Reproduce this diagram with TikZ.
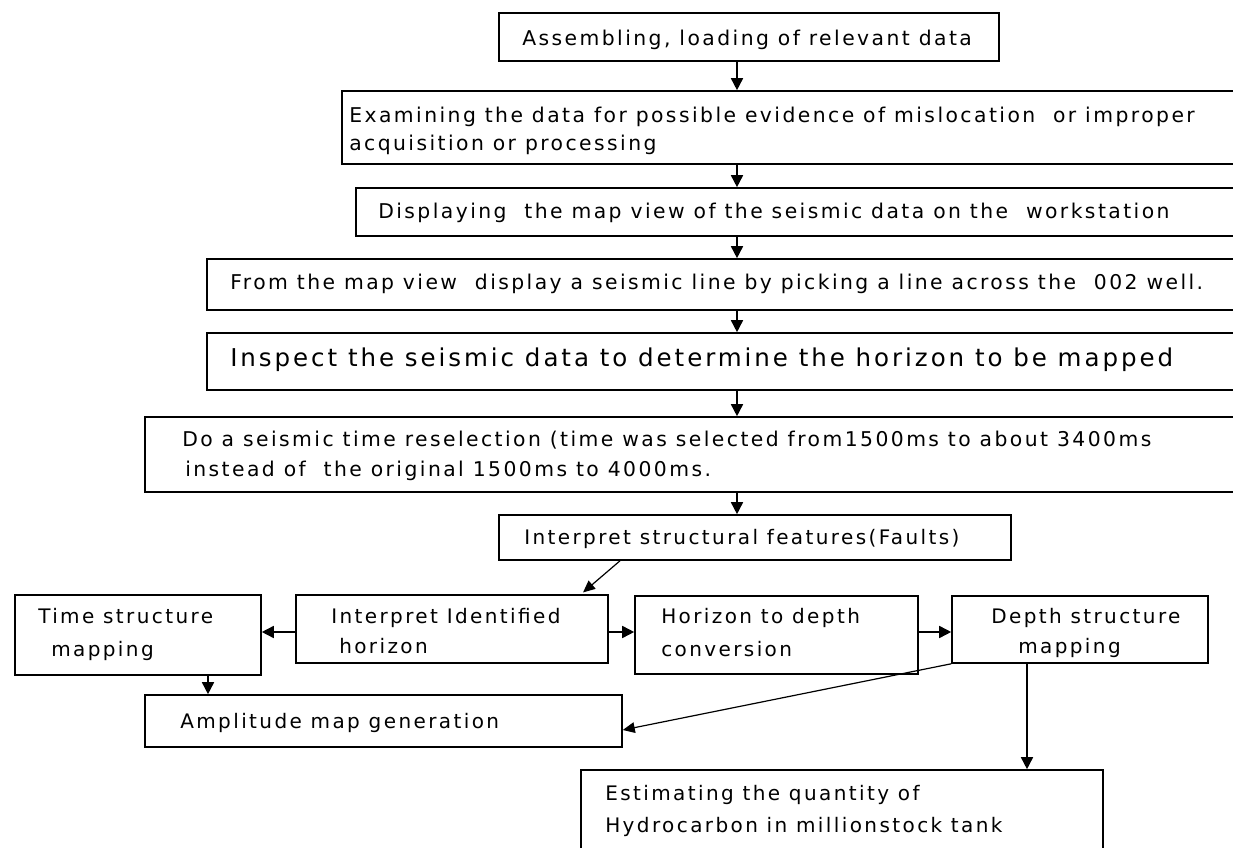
\documentclass[tikz,border=0pt]{standalone}
\usepackage{fontspec}
\setmainfont{DejaVu Sans}[LetterSpace=12]
\usetikzlibrary{arrows.meta,fit}
\begin{document}
\begin{tikzpicture}[x=0.75pt,y=-0.75pt,
  box/.style={draw,line width=1.2pt,inner sep=0pt},
  arr/.style={line width=1.2pt,-{Triangle[length=9pt,width=9pt]}},
  darr/.style={line width=0.9pt,-{Triangle[length=9pt,width=8pt]}},
  txt/.style={anchor=base west,inner sep=0pt,font=\fontsize{15}{18}\selectfont},
  toptxt/.style={anchor=base west,inner sep=0pt,font=\fontsize{15.25}{18}\selectfont},
  bigtxt/.style={anchor=base west,inner sep=0pt,font=\fontsize{18.4}{22}\selectfont}]
\useasboundingbox (0,0) rectangle (1233,848);
\fill[white] (0,0) rectangle (1233,848);
\clip (0,0) rectangle (1233,848);
% boxes
\node[box,fit={(499,13)(999,61)}] (b1) {};
\node[box,fit={(342,91)(1260,164)}] (b2) {};
\node[box,fit={(356,188)(1260,236)}] (b3) {};
\node[box,fit={(207,259)(1260,310)}] (b4) {};
\node[box,fit={(207,333)(1260,390)}] (b5) {};
\node[box,fit={(145,417)(1260,492)}] (b6) {};
\node[box,fit={(499,515)(1011,560)}] (b7) {};
\node[box,fit={(15,595)(261,675)}] (tm) {};
\node[box,fit={(296,595)(608,663)}] (ii) {};
\node[box,fit={(635,596)(918,674)}] (hz) {};
\node[box,fit={(952,596)(1208,663)}] (dp) {};
\node[box,fit={(145,695)(622,747)}] (am) {};
\node[box,fit={(581,770)(1103,870)}] (es) {};
% texts
\node[toptxt] (t1) at (522,46) {Assembling, loading of relevant data};
\node[toptxt] (t2a) at (349,123) {Examining the data for possible evidence of mislocation\ \ or improper};
\node[toptxt] (t2b) at (349,151) {acquisition or processing};
\node[toptxt] (t3) at (378,219) {Displaying\ \ the map view of the seismic data on the\ \ workstation};
\node[toptxt] (t4) at (230,290) {From the map view\ \ display a seismic line by picking a line across the\ \ 002 well.};
\node[bigtxt] (t5) at (230,367) {Inspect the seismic data to determine the horizon to be mapped};
\node[toptxt] (t6a) at (182,447) {Do a seismic time reselection (time was selected from1500ms to about 3400ms};
\node[toptxt] (t6b) at (185,477) {instead of\ \ the original 1500ms to 4000ms.};
\node[txt] (t7) at (524,545) {Interpret structural features(Faults)};
\node[txt] (ta1) at (38,624) {Time structure};
\node[txt] (ta2) at (51,657) {mapping};
\node[txt] (tb1) at (331,624) {Interpret Identified};
\node[txt] (tb2) at (339,654) {horizon};
\node[txt] (tc1) at (661,624) {Horizon to depth};
\node[txt] (tc2) at (661,657) {conversion};
\node[txt] (td1) at (991,624) {Depth structure};
\node[txt] (td2) at (1018,654) {mapping};
\node[txt] (te) at (180,729) {Amplitude map generation};
\node[txt] (tf1) at (605,800) {Estimating the quantity of};
\node[txt] (tf2) at (605,832) {Hydrocarbon in millionstock tank};
% connectors
\coordinate (ax) at (737,0);
\draw[arr] (b1.south -| ax) -- (b2.north -| ax);
\draw[arr] (b2.south -| ax) -- (b3.north -| ax);
\draw[arr] (b3.south -| ax) -- (b4.north -| ax);
\draw[arr] (b4.south -| ax) -- (b5.north -| ax);
\draw[arr] (b5.south -| ax) -- (b6.north -| ax);
\draw[arr] (b6.south -| ax) -- (b7.north -| ax);
\coordinate (p1) at (620,0);
\coordinate (p2) at (581,0);
\draw[darr,shorten >=2pt] (b7.south -| p1) -- (ii.north -| p2);
\coordinate (hy) at (0,632);
\draw[arr] (ii.west |- hy) -- (tm.east |- hy);
\draw[arr] (ii.east |- hy) -- (hz.west |- hy);
\draw[arr] (hz.east |- hy) -- (dp.west |- hy);
\coordinate (tx) at (208,0);
\draw[arr] (tm.south -| tx) -- (am.north -| tx);
\coordinate (q) at (0,730);
\draw[darr] (dp.south west) -- (am.east |- q);
\coordinate (ex) at (1027,0);
\draw[arr] (dp.south -| ex) -- (es.north -| ex);
\end{tikzpicture}
\end{document}
